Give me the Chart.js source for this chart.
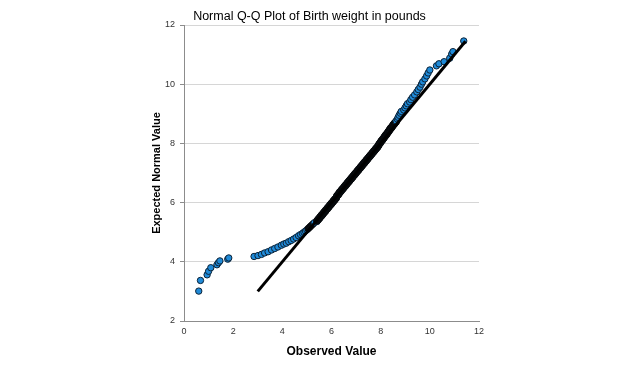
<!DOCTYPE html>
<html>
<head>
<meta charset="utf-8">
<script src="https://cdn.jsdelivr.net/npm/chart.js@4/dist/chart.umd.min.js"></script>
<style>
  body { margin: 0; background: #fff; }
  canvas { display: block; }
</style>
</head>
<body>
<canvas id="qq" width="624" height="367"></canvas>
<script>
// observed birth weights (lb), ties repeated, and their expected normal values
const observed = [
  // low outliers
  0.60, 0.67, 0.94, 1.00, 1.09, 1.34, 1.40, 1.46, 1.78, 1.82,
  // lower tail
  2.85, 3.01, 3.15, 3.28, 3.42, 3.56, 3.69, 3.82, 3.96, 4.06,
  4.16, 4.26, 4.36, 4.46, 4.56, 4.66, 4.74, 4.82, 4.88, 4.94,
  5.00, 5.05, 5.10, 5.15, 5.20, 5.25, 5.30,
  // dense middle
  5.41, 5.41, 5.41, 5.47, 5.47, 5.47, 5.53, 5.53, 5.53, 5.59, 5.59, 5.59, 5.65, 5.65, 5.65,
  5.71, 5.71, 5.71, 5.77, 5.77, 5.77, 5.83, 5.83, 5.83, 5.89, 5.89, 5.89, 5.95, 5.95, 5.95,
  6.01, 6.01, 6.01, 6.07, 6.07, 6.07, 6.13, 6.13, 6.13, 6.19, 6.19, 6.19, 6.22, 6.22, 6.22,
  6.28, 6.28, 6.28, 6.33, 6.33, 6.33, 6.39, 6.39, 6.39, 6.45, 6.45, 6.45, 6.51, 6.51, 6.51,
  6.57, 6.57, 6.57, 6.63, 6.63, 6.63, 6.69, 6.69, 6.69, 6.75, 6.75, 6.75, 6.81, 6.81, 6.81,
  6.87, 6.87, 6.87, 6.93, 6.93, 6.93, 6.99, 6.99, 6.99, 7.05, 7.05, 7.05, 7.11, 7.11, 7.11,
  7.17, 7.17, 7.17, 7.23, 7.23, 7.23, 7.29, 7.29, 7.29, 7.35, 7.35, 7.35, 7.41, 7.41, 7.41,
  7.47, 7.47, 7.47, 7.53, 7.53, 7.53, 7.59, 7.59, 7.59, 7.65, 7.65, 7.65, 7.71, 7.71, 7.71,
  7.77, 7.77, 7.77, 7.83, 7.83, 7.83, 7.89, 7.89, 7.89, 7.93, 7.93, 7.93, 7.98, 7.98, 7.98,
  8.03, 8.03, 8.03, 8.09, 8.09, 8.09, 8.14, 8.14, 8.14, 8.19, 8.19, 8.19, 8.25, 8.25, 8.25,
  8.30, 8.30, 8.30, 8.35, 8.35, 8.35, 8.40, 8.40, 8.40, 8.46, 8.46, 8.46, 8.51, 8.51, 8.51,
  8.57, 8.57, 8.57, 8.63, 8.63, 8.63,
  // upper tail
  8.68, 8.71, 8.75, 8.80, 8.84, 8.94, 8.99, 9.04, 9.09, 9.18,
  9.23, 9.30, 9.38, 9.47, 9.53, 9.60, 9.66, 9.71, 9.80, 9.87,
  9.93, 10.00,
  10.27, 10.37, 10.58, 10.81, 10.89, 10.94, 11.38
];
const expected = [
  3.01, 3.37, 3.56, 3.68, 3.80, 3.90, 3.97, 4.03, 4.09, 4.13,
  4.18, 4.21, 4.25, 4.30, 4.34, 4.40, 4.45, 4.50, 4.56, 4.60,
  4.63, 4.68, 4.72, 4.77, 4.82, 4.88, 4.92, 4.96, 5.00, 5.04,
  5.08, 5.12, 5.16, 5.20, 5.24, 5.28, 5.32,
  5.36, 5.38, 5.40, 5.42, 5.44, 5.46, 5.48, 5.50, 5.52, 5.54, 5.56, 5.58, 5.60, 5.62, 5.64,
  5.66, 5.68, 5.70, 5.72, 5.74, 5.76, 5.78, 5.80, 5.82, 5.84, 5.86, 5.88, 5.90, 5.92, 5.94,
  5.96, 5.98, 6.00, 6.02, 6.04, 6.06, 6.08, 6.10, 6.12, 6.14, 6.16, 6.18, 6.20, 6.22, 6.24,
  6.26, 6.28, 6.30, 6.32, 6.34, 6.36, 6.38, 6.40, 6.42, 6.44, 6.46, 6.48, 6.50, 6.52, 6.54,
  6.56, 6.58, 6.60, 6.62, 6.64, 6.66, 6.68, 6.70, 6.72, 6.74, 6.76, 6.78, 6.80, 6.82, 6.84,
  6.86, 6.88, 6.90, 6.92, 6.94, 6.96, 6.98, 7.00, 7.02, 7.04, 7.06, 7.08, 7.10, 7.12, 7.14,
  7.16, 7.18, 7.20, 7.22, 7.24, 7.26, 7.28, 7.30, 7.32, 7.34, 7.36, 7.38, 7.40, 7.42, 7.44,
  7.46, 7.48, 7.50, 7.52, 7.54, 7.56, 7.58, 7.60, 7.62, 7.64, 7.66, 7.68, 7.70, 7.72, 7.74,
  7.76, 7.78, 7.80, 7.82, 7.84, 7.86, 7.88, 7.90, 7.92, 7.94, 7.96, 7.98, 8.00, 8.02, 8.04,
  8.06, 8.08, 8.10, 8.12, 8.14, 8.16, 8.18, 8.20, 8.22, 8.24, 8.26, 8.28, 8.30, 8.32, 8.34,
  8.36, 8.38, 8.40, 8.42, 8.44, 8.46, 8.48, 8.50, 8.52, 8.54, 8.56, 8.58, 8.60, 8.62, 8.64,
  8.66, 8.68, 8.70, 8.72, 8.74, 8.76,
  8.82, 8.88, 8.95, 9.02, 9.08, 9.13, 9.20, 9.27, 9.34, 9.40,
  9.48, 9.56, 9.64, 9.74, 9.82, 9.90, 10.00, 10.08, 10.18, 10.28,
  10.38, 10.48,
  10.62, 10.69, 10.76, 10.88, 11.02, 11.10, 11.46
];

// reference line y = x
const refX = [3.0, 11.45];
const refY = [3.0, 11.45];

const xTicks = [0, 2, 4, 6, 8, 10, 12];
const yTicks = [2, 4, 6, 8, 10, 12];

const points = observed.map((v, i) => ({ x: v, y: expected[i] }));
const refLine = refX.map((v, i) => ({ x: v, y: refY[i] }));

// where markers pile up on both sides, their dark outlines swallow the blue fill
const gap = (i, j) => (j < 0 || j >= points.length)
  ? Infinity
  : Math.hypot(points[j].x - points[i].x, points[j].y - points[i].y);
const markerFills = points.map((p, i) =>
  Math.max(gap(i, i - 1), gap(i, i + 1)) < 0.07 ? '#0b0f14' : '#1f8ad8');
const markerBorders = markerFills.map((c) => (c === '#1f8ad8' ? '#0c2236' : '#05080b'));

const font = "'Liberation Sans', Arial, sans-serif";

new Chart(document.getElementById('qq'), {
  type: 'scatter',
  data: {
    datasets: [
      {
        type: 'line',
        data: refLine,
        borderColor: '#000',
        borderWidth: 3,
        pointRadius: 0,
        fill: false,
        order: 0,
      },
      {
        type: 'scatter',
        data: points,
        pointBackgroundColor: markerFills,
        pointBorderColor: markerBorders,
        pointBorderWidth: 1,
        pointRadius: 3.2,
        order: 1,
      },
    ],
  },
  options: {
    responsive: false,
    animation: false,
    layout: { padding: { left: 140, right: 145, top: 0, bottom: 0 } },
    plugins: {
      legend: { display: false },
      tooltip: { enabled: false },
      title: {
        display: true,
        text: 'Normal Q-Q Plot of Birth weight in pounds',
        color: '#000',
        font: { family: font, size: 12.5, weight: 'normal' },
        padding: { top: 9, bottom: 1 },
      },
    },
    scales: {
      x: {
        type: 'linear',
        min: 0,
        max: 12,
        afterBuildTicks: (s) => { s.ticks = xTicks.map((v) => ({ value: v })); },
        afterFit: (s) => { s.height = 46; },
        ticks: { color: '#333', font: { family: font, size: 9 }, padding: 5 },
        grid: { display: false, drawTicks: false },
        border: { color: '#8c8c8c', width: 1 },
        title: {
          display: true,
          text: 'Observed Value',
          color: '#000',
          font: { family: font, size: 12, weight: 'bold' },
          padding: { top: 6, bottom: 8 },
        },
      },
      y: {
        type: 'linear',
        min: 2,
        max: 12,
        afterBuildTicks: (s) => { s.ticks = yTicks.map((v) => ({ value: v })); },
        afterFit: (s) => { s.width = 44; },
        ticks: { color: '#333', font: { family: font, size: 9 }, padding: 5 },
        grid: { color: '#d6d6d6', tickLength: 4, tickColor: '#8c8c8c' },
        border: { color: '#8c8c8c', width: 1 },
        title: {
          display: true,
          text: 'Expected Normal Value',
          color: '#000',
          font: { family: font, size: 11, weight: 'bold' },
          padding: { top: 10, bottom: 0 },
        },
      },
    },
  },
});
</script>
</body>
</html>
